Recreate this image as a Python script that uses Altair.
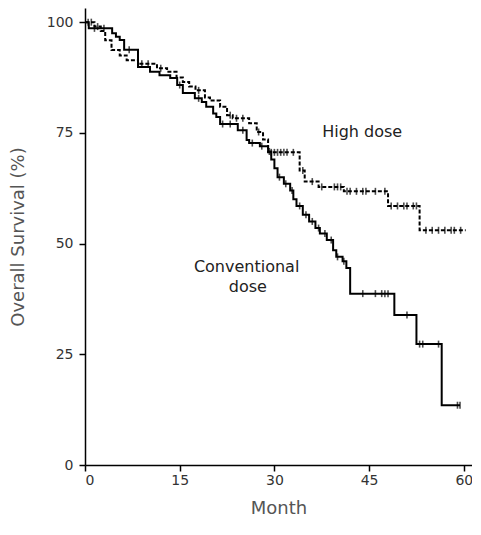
import altair as alt
import pandas as pd
import bisect

# Conventional dose (solid) step curve: time of step (month) and survival (%) after it
conv_t = [0, 0.6, 4.3, 4.9, 5.5, 6.2, 8.4, 10.3, 11.8, 13.5, 14.6, 15.5, 17.4, 18.5, 19.2,
          20.3, 20.8, 21.4, 24.2, 25.6, 26.0, 27.7, 29.0, 29.5, 30.0, 30.5, 31.5, 32.5, 33.0,
          33.5, 34.5, 35.5, 36.5, 37.2, 38.3, 39.3, 39.8, 40.8, 41.4, 42.0, 49.0, 52.5, 56.5]
conv_s = [100, 98.6, 97.5, 96.7, 96.0, 93.8, 89.9, 88.8, 88.0, 87.4, 85.8, 84.0, 82.8, 82.0, 80.9,
          79.4, 78.6, 77.0, 75.6, 73.4, 72.7, 72.0, 70.8, 69.0, 67.0, 65.0, 63.5, 62.0, 60.0,
          58.5, 56.5, 55.0, 53.5, 52.3, 50.8, 48.5, 47.0, 46.0, 44.5, 38.7, 33.9, 27.3, 13.5]
conv_end = 59.4

# High dose (dashed) step curve
hd_t = [0, 1.5, 2.5, 3.2, 4.2, 5.5, 6.6, 8.4, 11.4, 13.0, 14.5, 15.5, 16.5, 17.5, 19.0,
        19.8, 21.4, 22.5, 23.4, 26.0, 27.2, 28.2, 29.0, 34.0, 34.8, 37.0, 41.0, 48.0, 53.0]
hd_s = [100, 99.0, 98.0, 95.9, 93.7, 92.5, 91.4, 90.6, 89.6, 88.8, 87.5, 86.5, 85.5, 84.6, 83.0,
        82.3, 80.9, 79.0, 78.3, 77.2, 75.2, 73.5, 70.6, 66.5, 64.0, 62.8, 61.8, 58.5, 53.0]
hd_end = 60.3

# Censored observations (months)
conv_cens = [0.5, 1.5, 3, 7, 15, 18, 21.8, 23, 25, 26.5, 28, 29.2, 30.8, 31.8, 32.8, 34, 35,
             36, 37, 38, 39, 40, 41, 44, 46, 47, 47.5, 48, 51, 53, 53.5, 56, 59, 59.4]
hd_cens = [1, 2, 9, 10, 12, 18, 23, 24, 25, 27.5, 29.5, 30, 30.5, 31, 31.5, 32, 33, 34.5, 36,
           37.5, 39.5, 40, 40.5, 41.5, 42, 43, 44, 44.5, 46, 47.5, 48.5, 49.5, 50.5, 51, 52,
           52.5, 54, 55, 56, 57, 58, 58.5, 59.5]

x_ticks = [0, 15, 30, 45, 60]
y_ticks = [0, 25, 50, 75, 100]


def step_value(ts, ss, t):
    i = bisect.bisect_right(ts, t) - 1
    return ss[max(i, 0)]


rows = []
for t, s in zip(conv_t, conv_s):
    rows.append({"group": "Conventional dose", "month": t, "surv": s})
rows.append({"group": "Conventional dose", "month": conv_end, "surv": conv_s[-1]})
for t, s in zip(hd_t, hd_s):
    rows.append({"group": "High dose", "month": t, "surv": s})
rows.append({"group": "High dose", "month": hd_end, "surv": hd_s[-1]})
curves = pd.DataFrame(rows)

cens_rows = []
for t in conv_cens:
    cens_rows.append({"group": "Conventional dose", "month": t,
                      "surv": step_value(conv_t, conv_s, t)})
for t in hd_cens:
    cens_rows.append({"group": "High dose", "month": t, "surv": step_value(hd_t, hd_s, t)})
cens = pd.DataFrame(cens_rows)

labels = pd.DataFrame([
    {"month": 43.9, "surv": 75.2, "text": "High dose"},
    {"month": 25.6, "surv": 44.7, "text": "Conventional"},
    {"month": 25.8, "surv": 40.2, "text": "dose"},
])

FONT = "DejaVu Sans"
xs = alt.Scale(domain=[0, 61.3], nice=False, zero=False)
ys = alt.Scale(domain=[0, 103.2], nice=False)

x_enc = alt.X("month:Q", scale=xs, axis=alt.Axis(
    values=x_ticks, title="Month", titlePadding=12, labelPadding=2))
y_enc = alt.Y("surv:Q", scale=ys, axis=alt.Axis(
    values=y_ticks, title="Overall Survival (%)", titlePadding=19, labelPadding=6))

lines = alt.Chart(curves).mark_line(interpolate="step-after", color="black",
                                    strokeWidth=2).encode(
    x=x_enc, y=y_enc,
    strokeDash=alt.StrokeDash("group:N", scale=alt.Scale(
        domain=["Conventional dose", "High dose"], range=[[1, 0], [4, 2]]), legend=None),
    detail="group:N",
)

ticks = alt.Chart(cens).mark_tick(orient="vertical", color="black", size=7,
                                  thickness=1.6).encode(
    x=alt.X("month:Q", scale=xs), y=alt.Y("surv:Q", scale=ys))

texts = alt.Chart(labels).mark_text(font=FONT, fontSize=16, color="#222").encode(
    x=alt.X("month:Q", scale=xs), y=alt.Y("surv:Q", scale=ys), text="text:N")

chart = alt.layer(lines, ticks, texts).properties(
    width=387, height=457,
    autosize=alt.AutoSizeParams(type="none"),
    padding={"left": 77, "top": 0, "right": 0, "bottom": 55},
).configure_view(stroke=None).configure_axis(
    grid=False, domainColor="black", domainWidth=1.5, tickColor="black", tickWidth=1.5,
    tickSize=6, labelFont=FONT, labelFontSize=14, labelColor="#333",
    titleFont=FONT, titleFontSize=18, titleColor="#555", titleFontWeight="normal",
)

chart.save("out.html", embed_options={"renderer": "svg", "actions": False})
